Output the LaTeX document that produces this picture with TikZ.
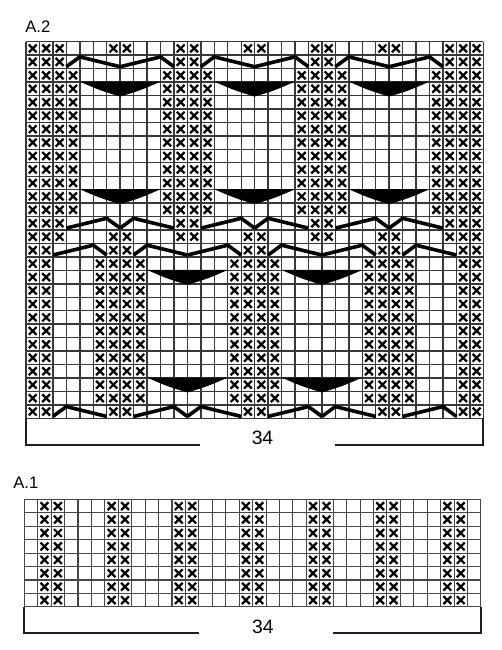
\documentclass[tikz,border=0pt]{standalone}
\usepackage{fontspec}
\setmainfont{Liberation Sans}
\newcommand\xmk[2]{\draw[xmark] (#1+0.21,#2+0.21) -- (#1+0.79,#2+0.79) (#1+0.21,#2+0.79) -- (#1+0.79,#2+0.21);}
\newcommand\trib[2]{\fill[black] (#1,#2-0.03) -- (#1+6,#2-0.03) .. controls (#1+4.5,#2+0.62) .. (#1+3,#2+1.08) .. controls (#1+1.5,#2+0.62) .. (#1,#2-0.03) -- cycle;}
\newcommand\cabA[2]{\draw[cable] (#1,#2+0.86) -- (#1+1,#2+0.13) -- (#1+4,#2+0.86); \draw[cable] (#1+4,#2+0.86) -- (#1+7,#2+0.13) -- (#1+8,#2+0.86);}
\newcommand\cabB[2]{\draw[cable] (#1,#2+0.86) -- (#1+3,#2+0.13) -- (#1+4,#2+0.86); \draw[cable] (#1+4,#2+0.86) -- (#1+5,#2+0.13) -- (#1+8,#2+0.86);}
\begin{document}
\begin{tikzpicture}[x=0.75pt,y=-0.75pt,
  gridline/.style={draw=black!78, line width=1.05pt},
  gridlight/.style={draw=black!72, line width=0.8pt},
  xmark/.style={draw=black, line width=1.7pt},
  cable/.style={draw=black, line width=2.7pt, line join=miter, line cap=butt},
  bracket/.style={draw=black!88, line width=1.5pt},
  lbl/.style={inner sep=0pt, font=\fontsize{12.5}{14}\selectfont},
  num/.style={inner sep=0pt, font=\fontsize{14.5}{16}\selectfont}]
\useasboundingbox (0,0) rectangle (502,650);
\fill[white] (0,0) rectangle (502,650);

\node[lbl, anchor=west] (a2) at (25,26.5) {A.2};

% ---------- chart A.2 ----------
\begin{scope}[xshift=19.5pt, yshift=-31.275pt, x=10.0875pt, y=-10.0875pt]
  \foreach \i in {0,...,28} \draw[gridline] (0,\i) -- (34,\i);
  \foreach \j in {0,...,34} \draw[gridline] (\j,0) -- (\j,28);
  \foreach \r in {0,14} {\foreach \c in {0,1,2,6,7,11,12,16,17,21,22,26,27,31,32,33} {\xmk{\c}{\r}}}
  \foreach \r in {1,13} {\foreach \c in {0,1,2,11,12,21,22,31,32,33} {\xmk{\c}{\r}}}
  \foreach \r in {2,...,12} {\foreach \c in {0,1,2,3,10,11,12,13,20,21,22,23,30,31,32,33} {\xmk{\c}{\r}}}
  \foreach \r in {15,27} {\foreach \c in {0,1,6,7,16,17,26,27,32,33} {\xmk{\c}{\r}}}
  \foreach \r in {16,...,26} {\foreach \c in {0,1,5,6,7,8,15,16,17,18,25,26,27,28,32,33} {\xmk{\c}{\r}}}
  % triangles
  \foreach \r in {3,11} {\foreach \c in {4,14,24} {\trib{\c}{\r}}}
  \foreach \r in {17,25} {\foreach \c in {9,19} {\trib{\c}{\r}}}
  % cables
  \foreach \c in {3,13,23} {\cabA{\c}{1}}
  \foreach \c in {3,13,23} {\cabB{\c}{13}}
  \foreach \c in {8,18} {\cabA{\c}{15}}
  \foreach \c in {8,18} {\cabB{\c}{27}}
  \draw[cable] (2,15.86) -- (5,15.13) -- (6,15.86);
  \draw[cable] (28,15.86) -- (29,15.13) -- (32,15.86);
  \draw[cable] (2,27.86) -- (3,27.13) -- (6,27.86);
  \draw[cable] (28,27.86) -- (31,27.13) -- (32,27.86);
\end{scope}

\draw[bracket] (200,445) -- (26,445) -- (26,418.3);
\draw[bracket] (335,445) -- (483.3,445) -- (483.3,418.3);
\node[num] (n34a) at (262.5,437.5) {34};

% ---------- chart A.1 ----------
\node[lbl, anchor=west] (a1) at (13,482.5) {A.1};
\begin{scope}[xshift=18.225pt, yshift=-374.55pt, x=10.0725pt, y=-10.0725pt]
  \foreach \i in {0,...,8} \draw[gridlight] (0,\i) -- (34,\i);
  \foreach \j in {0,...,34} \draw[gridlight] (\j,0) -- (\j,8);
  \foreach \r in {0,...,7} {\foreach \c in {1,2,6,7,11,12,16,17,21,22,26,27,31,32} {\xmk{\c}{\r}}}
\end{scope}
\draw[bracket] (199,633) -- (24.3,633) -- (24.3,606.8);
\draw[bracket] (333,633) -- (480.9,633) -- (480.9,606.8);
\node[num] (n34b) at (263,626.5) {34};
\end{tikzpicture}
\end{document}
